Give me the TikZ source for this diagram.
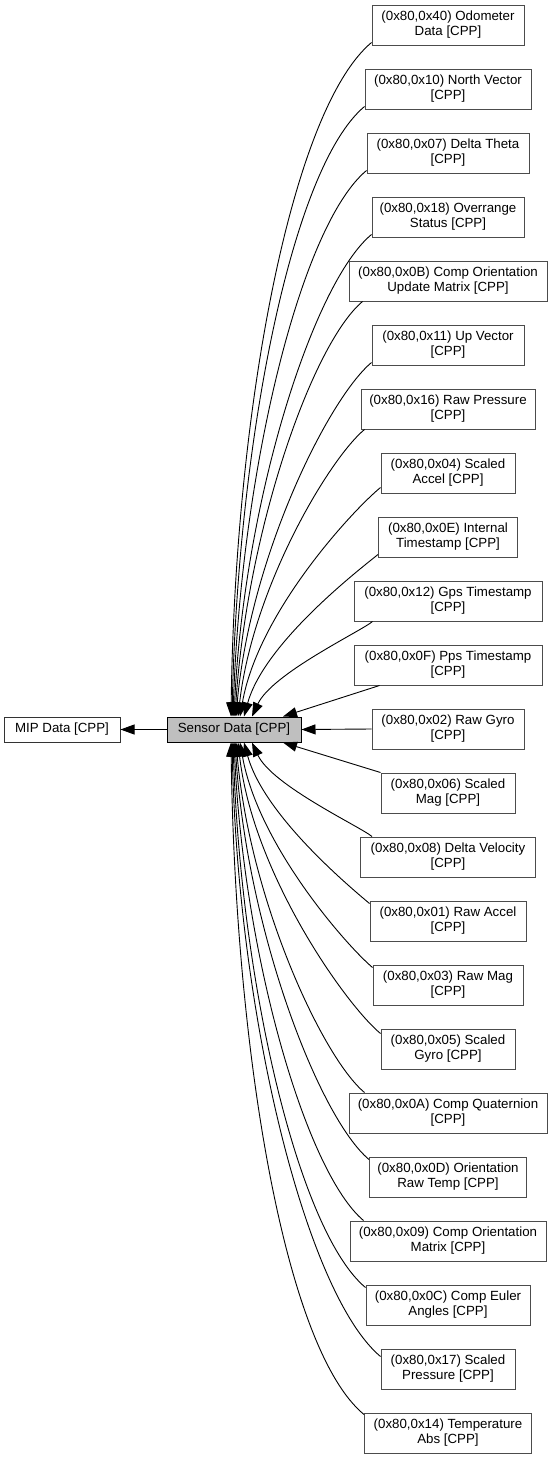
\documentclass[tikz,border=0pt]{standalone}
\usepackage{fontspec}
\setmainfont{Liberation Sans}
\usetikzlibrary{arrows.meta}

\begin{document}
\begin{tikzpicture}[x=1pt, y=-1pt,
			member/.style = {rectangle, draw=black!70, line width=1pt, align=center, inner sep=1pt, minimum height=40pt, font=\fontsize{13.3}{15}\selectfont},
			focus/.style = {rectangle, draw=black, fill=black!25, line width=1pt, inner sep=1pt, minimum height=25pt, font=\fontsize{13.3}{15}\selectfont},
			dep/.style = {line width=0.9pt, -{Triangle[length=14pt, width=10pt]}}]

\useasboundingbox (0,0) rectangle (552,1459);

\node[member, draw=black!80, minimum height=25pt, minimum width=116pt] (mip) at (62, 729.5) {MIP Data [CPP]};
\node[focus, minimum width=134pt] (sensor) at (234, 729.5) {Sensor Data [CPP]};

\node[member, minimum width=152pt] (odo) at (448, 25) {(0x80,0x40) Odometer\\Data [CPP]};
\node[member, minimum width=166pt] (north) at (448, 89) {(0x80,0x10) North Vector\\{[CPP]}};
\node[member, minimum width=162pt] (dtheta) at (448, 153) {(0x80,0x07) Delta Theta\\{[CPP]}};
\node[member, minimum width=152pt] (overrange) at (448, 217) {(0x80,0x18) Overrange\\Status [CPP]};
\node[member, minimum width=198pt] (coupdate) at (448, 281) {(0x80,0x0B) Comp Orientation\\Update Matrix [CPP]};
\node[member, minimum width=152pt] (up) at (448, 345) {(0x80,0x11) Up Vector\\{[CPP]}};
\node[member, minimum width=174pt] (rawpres) at (448, 409) {(0x80,0x16) Raw Pressure\\{[CPP]}};
\node[member, minimum width=134pt] (saccel) at (448, 473) {(0x80,0x04) Scaled\\Accel [CPP]};
\node[member, minimum width=139pt] (itime) at (448, 537) {(0x80,0x0E) Internal\\Timestamp [CPP]};
\node[member, minimum width=188pt] (gps) at (448, 601) {(0x80,0x12) Gps Timestamp\\{[CPP]}};
\node[member, minimum width=188pt] (pps) at (448, 665) {(0x80,0x0F) Pps Timestamp\\{[CPP]}};
\node[member, minimum width=152pt] (rgyro) at (448, 729) {(0x80,0x02) Raw Gyro\\{[CPP]}};
\node[member, minimum width=134pt] (smag) at (448, 793) {(0x80,0x06) Scaled\\Mag [CPP]};
\node[member, minimum width=175pt] (dvel) at (448, 857) {(0x80,0x08) Delta Velocity\\{[CPP]}};
\node[member, minimum width=156pt] (raccel) at (448, 921) {(0x80,0x01) Raw Accel\\{[CPP]}};
\node[member, minimum width=150pt] (rmag) at (448, 985) {(0x80,0x03) Raw Mag\\{[CPP]}};
\node[member, minimum width=134pt] (sgyro) at (448, 1049) {(0x80,0x05) Scaled\\Gyro [CPP]};
\node[member, minimum width=198pt] (quat) at (448, 1113) {(0x80,0x0A) Comp Quaternion\\{[CPP]}};
\node[member, minimum width=157pt] (ortemp) at (448, 1177) {(0x80,0x0D) Orientation\\Raw Temp [CPP]};
\node[member, minimum width=196pt] (omatrix) at (448, 1241) {(0x80,0x09) Comp Orientation\\Matrix [CPP]};
\node[member, minimum width=164pt] (euler) at (448, 1305) {(0x80,0x0C) Comp Euler\\Angles [CPP]};
\node[member, minimum width=134pt] (spres) at (448, 1369) {(0x80,0x17) Scaled\\Pressure [CPP]};
\node[member, minimum width=167pt] (tabs) at (448, 1433) {(0x80,0x14) Temperature\\Abs [CPP]};

% into the group
\draw[dep] (sensor.west) -- (mip.east);

% upper members
\draw[dep] ([yshift=3pt]odo.south west) .. controls +(-81,68) and +(4,-304) .. ([xshift=-3pt]sensor.north);
\draw[dep] ([yshift=3pt]north.south west) .. controls +(-73,61) and +(6,-275) .. ([xshift=-2pt]sensor.north);
\draw[dep] ([yshift=3pt]dtheta.south west) .. controls +(-66,55) and +(8,-246) .. ([xshift=-1pt]sensor.north);
\draw[dep] ([yshift=3pt]overrange.south west) .. controls +(-58,48) and +(10,-217) .. (sensor.north);
\draw[dep] ([xshift=14pt]coupdate.south west) .. controls +(-50,42) and +(12,-187) .. ([xshift=1pt]sensor.north);
\draw[dep] ([yshift=3pt]up.south west) .. controls +(-43,36) and +(14,-160) .. ([xshift=2pt]sensor.north);
\draw[dep] ([xshift=4pt]rawpres.south west) .. controls +(-35,29) and +(15,-130) .. ([xshift=4pt]sensor.north);
\draw[dep] ([yshift=6pt]saccel.south west) .. controls +(-28,23) and +(18,-104) .. ([xshift=6pt]sensor.north);
\draw[dep] ([yshift=3pt]itime.south west) .. controls +(-20,16) and +(20,-73) .. ([xshift=10pt]sensor.north);
\draw[dep] ([xshift=19pt]gps.south west) .. controls +(-12,10) and +(20,-43) .. ([xshift=18pt]sensor.north);
\draw[dep] ([xshift=26pt]pps.south west) -- ([xshift=49pt]sensor.north);

\draw[dep] (rgyro.west) -- (sensor.east);

% lower members
\draw[dep] (smag.north west) -- ([xshift=49pt]sensor.south);
\draw[dep] ([xshift=12pt]dvel.north west) .. controls +(-12,-10) and +(20,43) .. ([xshift=18pt]sensor.south);
\draw[dep] ([yshift=-3pt]raccel.north west) .. controls +(-19,-16) and +(20,73) .. ([xshift=10pt]sensor.south);
\draw[dep] ([yshift=-3pt]rmag.north west) .. controls +(-27,-23) and +(18,102) .. ([xshift=6pt]sensor.south);
\draw[dep] ([yshift=-5pt]sgyro.north west) .. controls +(-35,-29) and +(15,131) .. ([xshift=4pt]sensor.south);
\draw[dep] ([xshift=16pt]quat.north west) .. controls +(-42,-35) and +(14,158) .. ([xshift=2pt]sensor.south);
\draw[dep] ([yshift=-3pt]ortemp.north west) .. controls +(-50,-42) and +(12,188) .. ([xshift=1pt]sensor.south);
\draw[dep] ([xshift=14pt]omatrix.north west) .. controls +(-57,-48) and +(10,216) .. (sensor.south);
\draw[dep] ([yshift=-3pt]euler.north west) .. controls +(-66,-55) and +(8,246) .. ([xshift=-1pt]sensor.south);
\draw[dep] ([yshift=-8pt]spres.north west) .. controls +(-74,-62) and +(6,277) .. ([xshift=-2pt]sensor.south);
\draw[dep] ([yshift=-2pt]tabs.north west) .. controls +(-81,-67) and +(4,302) .. ([xshift=-3pt]sensor.south);

\end{tikzpicture}
\end{document}
